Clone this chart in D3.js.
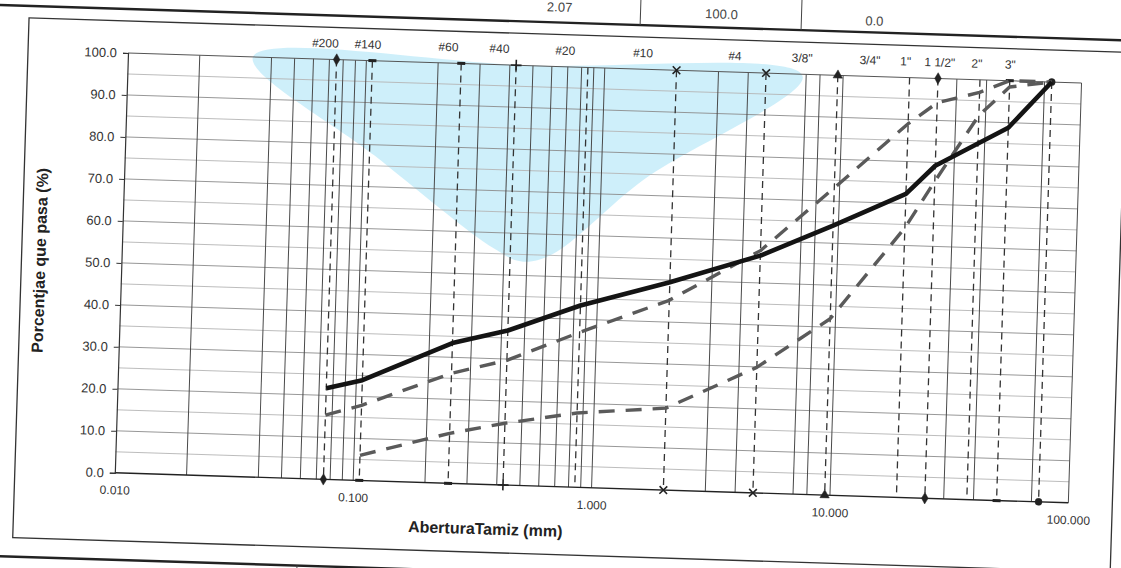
<!DOCTYPE html>
<html>
<head>
<meta charset="utf-8">
<script src="https://cdn.jsdelivr.net/npm/d3@7/dist/d3.min.js"></script>
<style>
  body { margin: 0; background: #fff; }
  svg { display: block; font-family: "Liberation Sans", Arial, sans-serif; }
</style>
</head>
<body>
<script>
// sieve openings (mm) and their names
const sieveNames = ['#200', '#140', '#60', '#40', '#20', '#10', '#4', '3/8"', '3/4"', '1"', '1 1/2"', '2"', '3"'];
const sieveSizes = [0.075, 0.106, 0.25, 0.425, 0.85, 2.0, 4.75, 9.5, 19, 25, 37.5, 50, 75];
// where each name sits along the axis (mm)
const sieveLabelAt = [0.067, 0.101, 0.22, 0.36, 0.68, 1.44, 3.5, 6.7, 12.9, 18.2, 25.3, 36.2, 50];
const sieveMarks = ['diamond', 'dash', 'dash', 'plus', 'none', 'times', 'times', 'triangle', 'none', 'diamond', 'none', 'dash', 'dot'];

// % passing
const passing   = [21.7, 23.9, 33.4, 36.8, 43.3, 49.5, 56.5, 64.2, 72.3, 79.2, 84.8, 88.8, 100];
const upperBand = [15.3, 17.9, 26.2, 29.7, 36.9, 45.2, 57.7, 73.2, 89.0, 94.2, 97.0, 100, 100];
const lowerBand = [null, 6.0, 11.9, 14.7, 17.7, 19.5, 29.9, 42.0, 64.2, 75.5, 91.5, 98.5, 100];

// extra vertical grid lines (mm)
const gridSizes = [0.02, 0.04, 0.05, 0.06, 0.07, 0.08, 0.09, 0.1, 0.2, 0.3, 0.4, 0.5, 0.6, 0.7, 0.8, 0.9, 1,
                   3, 4, 7, 8, 10, 30, 40, 70, 100];

const xTicks = [0.01, 0.1, 1, 10, 100];
const xTickLabels = ['0.010', '0.100', '1.000', '10.000', '100.000'];
const yTicks = [0, 10, 20, 30, 40, 50, 60, 70, 80, 90, 100];

// page-table leftovers around the chart
const tableTexts = ['2.07', '100.0', '0.0'];

(function() {
  const W = 1121, H = 568;
  const pw = 954, ph = 420;   // plot size
  const tilt = 1.8;           // the scan is slightly rotated

  const svg = d3.select('body').append('svg')
    .attr('width', W)
    .attr('height', H);

  const g = svg.append('g')
    .attr('transform', `translate(128,53) rotate(${tilt})`);

  const x = d3.scaleLog().domain([0.01, 100]).range([0, pw]);
  const y = d3.scaleLinear().domain([0, 100]).range([ph, 0]);

  // page table lines
  g.append('line').attr('x1', -140).attr('x2', 1010).attr('y1', -44).attr('y2', -44)
    .attr('stroke', '#222').attr('stroke-width', 2.4);
  [511, 672].forEach(u => {
    g.append('line').attr('x1', u).attr('x2', u).attr('y1', -80).attr('y2', -44)
      .attr('stroke', '#444').attr('stroke-width', 1);
  });
  g.selectAll('.ttext')
    .data(tableTexts)
    .enter()
    .append('text')
      .attr('x', (d, i) => [430, 592, 745][i])
      .attr('y', (d, i) => [-55, -53, -51][i])
      .attr('text-anchor', 'middle')
      .style('font-size', '13px')
      .style('fill', '#444')
      .text(d => d);

  // chart frame
  g.append('rect')
    .attr('x', -100).attr('y', -32)
    .attr('width', 1098).attr('height', 520)
    .attr('fill', 'none').attr('stroke', '#333').attr('stroke-width', 1.3);

  // lower page table
  g.append('line').attr('x1', -140).attr('x2', 1010).attr('y1', 507).attr('y2', 507)
    .attr('stroke', '#222').attr('stroke-width', 2.4);
  g.append('line').attr('x1', 185).attr('x2', 185).attr('y1', 507).attr('y2', 560)
    .attr('stroke', '#444').attr('stroke-width', 1);

  // light blue watermark
  g.append('path')
    .attr('d', d3.line().curve(d3.curveCatmullRomClosed.alpha(0.5))([
      [125, 0], [400, 0], [675, 2], [520, 110], [430, 188], [400, 196], [372, 184], [250, 95]
    ]))
    .attr('fill', '#c9edf9')
    .attr('opacity', 0.9);

  // horizontal grid every 5 %
  g.selectAll('.hgrid')
    .data(d3.range(5, 100, 5))
    .enter()
    .append('line')
      .attr('x1', 0).attr('x2', pw)
      .attr('y1', d => y(d)).attr('y2', d => y(d))
      .attr('stroke', d => d % 10 === 0 ? '#8d8d8d' : '#b5b5b5')
      .attr('stroke-width', 0.9);

  // vertical grid
  g.selectAll('.vgrid')
    .data(gridSizes)
    .enter()
    .append('line')
      .attr('x1', d => x(d)).attr('x2', d => x(d))
      .attr('y1', 0).attr('y2', ph)
      .attr('stroke', '#4a4a4a')
      .attr('stroke-width', 1);

  // sieve lines
  g.selectAll('.sieve')
    .data(sieveSizes)
    .enter()
    .append('line')
      .attr('x1', d => x(d)).attr('x2', d => x(d))
      .attr('y1', 0).attr('y2', ph)
      .attr('stroke', '#333')
      .attr('stroke-width', 1.3)
      .attr('stroke-dasharray', '7,5');

  // plot frame (top, bottom)
  g.append('line').attr('x1', 0).attr('x2', pw).attr('y1', 0).attr('y2', 0)
    .attr('stroke', '#555').attr('stroke-width', 1);
  g.append('line').attr('x1', 0).attr('x2', pw).attr('y1', ph).attr('y2', ph)
    .attr('stroke', '#222').attr('stroke-width', 1.4);

  // sieve markers on top and bottom edges
  const symbolFor = {
    diamond: d3.symbolDiamond, triangle: d3.symbolTriangle, times: d3.symbolTimes,
    plus: d3.symbolPlus, dot: d3.symbolCircle
  };
  sieveSizes.forEach((s, i) => {
    const m = sieveMarks[i];
    if (m === 'none') return;
    [0, ph].forEach(yy => {
      if (m === 'dash') {
        g.append('rect').attr('x', x(s) - 4).attr('y', yy - 1.5).attr('width', 8).attr('height', 3)
          .attr('fill', '#222');
      } else {
        const stroked = (m === 'times' || m === 'plus');
        g.append('path')
          .attr('transform', `translate(${x(s)},${yy})`)
          .attr('d', d3.symbol().type(symbolFor[m]).size(stroked ? 40 : 38)())
          .attr('fill', stroked ? 'none' : '#222')
          .attr('stroke', '#222')
          .attr('stroke-width', stroked ? 1.6 : 0.5);
      }
    });
  });

  // sieve names above the plot
  g.selectAll('.sname')
    .data(sieveNames)
    .enter()
    .append('text')
      .attr('x', (d, i) => x(sieveLabelAt[i]))
      .attr('y', -12)
      .attr('text-anchor', 'middle')
      .style('font-size', '12px')
      .style('fill', '#333')
      .text(d => d);

  // y axis
  const yAxis = d3.axisLeft(y).tickValues(yTicks).tickFormat(d3.format('.1f')).tickSize(5).tickPadding(6);
  const ya = g.append('g').call(yAxis);
  ya.select('.domain').attr('stroke', '#333').attr('stroke-width', 1.2);
  ya.selectAll('.tick line').attr('stroke', '#333');
  ya.selectAll('.tick text')
    .style('font-size', '13px')
    .style('fill', '#333')
    .style('font-family', '"Liberation Sans", Arial, sans-serif');

  // x axis labels
  const xAxis = d3.axisBottom(x).tickValues(xTicks).tickFormat((d, i) => xTickLabels[i]).tickSize(0).tickPadding(13);
  const xa = g.append('g').attr('transform', `translate(0,${ph})`).call(xAxis);
  xa.select('.domain').remove();
  xa.selectAll('.tick text')
    .style('font-size', '12px')
    .style('fill', '#333')
    .style('font-family', '"Liberation Sans", Arial, sans-serif');

  // curves
  const line = d3.line()
    .defined(d => d[1] != null)
    .x(d => x(d[0]))
    .y(d => y(d[1]));

  const series = [
    { vals: upperBand, color: '#5a5a5a', width: 3.4, dash: '16,11' },
    { vals: lowerBand, color: '#5a5a5a', width: 3.4, dash: '16,11' },
    { vals: passing,   color: '#141414', width: 4.6, dash: null }
  ];
  series.forEach(sr => {
    g.append('path')
      .datum(sieveSizes.map((s, i) => [s, sr.vals[i]]))
      .attr('d', line)
      .attr('fill', 'none')
      .attr('stroke', sr.color)
      .attr('stroke-width', sr.width)
      .attr('stroke-linejoin', 'round')
      .attr('stroke-dasharray', sr.dash);
  });

  // axis titles
  g.append('text')
    .attr('x', 372).attr('y', 470)
    .attr('text-anchor', 'middle')
    .style('font-size', '16px')
    .style('font-weight', 'bold')
    .style('fill', '#222')
    .text('AberturaTamiz (mm)');

  g.append('text')
    .attr('transform', `translate(-76,${ph / 2}) rotate(-90)`)
    .attr('text-anchor', 'middle')
    .style('font-size', '16px')
    .style('font-weight', 'bold')
    .style('fill', '#222')
    .text('Porcentjae que pasa (%)');
})();
</script>
</body>
</html>
